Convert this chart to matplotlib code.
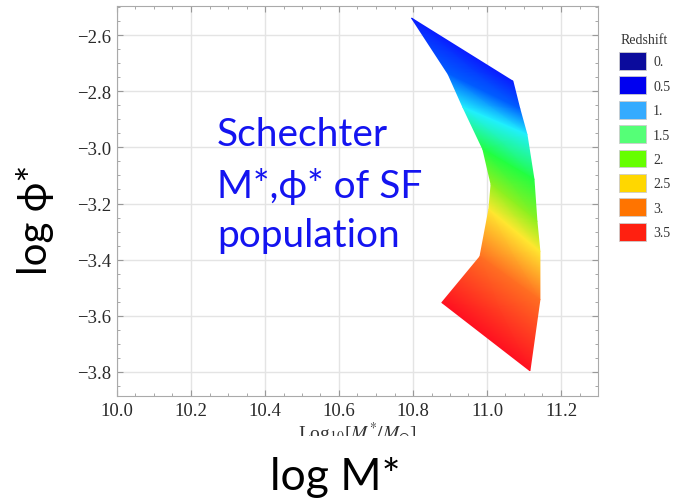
import numpy as np
import matplotlib.pyplot as plt
from matplotlib.colors import LinearSegmentedColormap
from matplotlib.patches import Patch, Rectangle
from matplotlib.ticker import MultipleLocator

# redshift steps along the band
redshift = [0.0, 0.5, 1.0, 1.5, 2.0, 2.5, 3.0, 3.5]
# low-mass (inner) and high-mass (outer) edge of the Schechter M*, phi* band
logm_lo = [10.796, 10.895, 10.935, 10.989, 11.011, 11.005, 10.981, 10.878]
logphi_lo = [-2.539, -2.739, -2.857, -3.007, -3.132, -3.221, -3.389, -3.553]
logm_hi = [11.070, 11.089, 11.108, 11.127, 11.135, 11.143, 11.143, 11.116]
logphi_hi = [-2.764, -2.864, -2.954, -3.114, -3.264, -3.371, -3.543, -3.796]

band_colors = ['#0a1cff', '#0060ff', '#20f0ff', '#22ff40', '#90f020',
               '#ffe830', '#ff7022', '#ff1020']

legend_labels = ['0.', '0.5', '1.', '1.5', '2.', '2.5', '3.', '3.5']
legend_colors = ['#0b0b9c', '#0000f0', '#35abff', '#55ff77', '#66ff00',
                 '#ffd700', '#ff7400', '#ff2010']

xticks = [10.0, 10.2, 10.4, 10.6, 10.8, 11.0, 11.2]
yticks = [-2.6, -2.8, -3.0, -3.2, -3.4, -3.6, -3.8]

plt.rcParams['mathtext.fontset'] = 'stix'
W, H = 677, 502

fig = plt.figure(figsize=(W / 100, H / 100), dpi=100)
ax = fig.add_axes([117 / W, 1 - 397 / H, (598 - 117) / W, (397 - 7) / H])

X = np.column_stack([logm_lo, logm_hi])
Y = np.column_stack([logphi_lo, logphi_hi])
Z = np.column_stack([redshift, redshift])
nodes = np.array(redshift) / max(redshift)
cmap = LinearSegmentedColormap.from_list('band', list(zip(nodes, band_colors)))
ax.pcolormesh(X, Y, Z, shading='gouraud', cmap=cmap, vmin=0, vmax=max(redshift),
              antialiased=True, zorder=3)

ax.set_xlim(10.0, 11.3)
ax.set_ylim(-3.886, -2.496)
ax.set_xticks(xticks)
ax.set_xticklabels(['%.1f' % v for v in xticks])
ax.set_yticks(yticks)
ax.set_yticklabels(['\u2212%.1f' % abs(v) for v in yticks])
ax.xaxis.set_minor_locator(MultipleLocator(0.05))
ax.yaxis.set_minor_locator(MultipleLocator(0.05))
ax.tick_params(which='both', direction='in', top=True, right=True,
               color='#999999', labelcolor='#2a2a2a')
ax.tick_params(which='major', length=4, labelsize=13.5, pad=4)
ax.tick_params(which='minor', length=2)
for lab in ax.get_xticklabels() + ax.get_yticklabels():
    lab.set_family('Liberation Serif')
ax.grid(True, color='#e4e4e4', lw=1)
ax.set_axisbelow(True)
for sp in ax.spines.values():
    sp.set_color('#aaaaaa')

ax.set_xlabel(r'Log$_{10}$[$M^{*}/M_{\odot}$]', family='Liberation Serif',
              fontsize=14, color='#333333', labelpad=0)

# legend
handles = [Patch(facecolor=c, edgecolor='#cccccc', lw=0.6) for c in legend_colors]
leg = fig.legend(handles, legend_labels, title='Redshift', loc='upper left',
                 bbox_to_anchor=(606 / W, 1 - 21 / H), frameon=False,
                 prop={'family': 'Liberation Serif', 'size': 10},
                 handlelength=2.0, handleheight=1.6, labelspacing=0.47,
                 handletextpad=0.5)
leg.get_title().set_family('Liberation Serif')
leg.get_title().set_fontsize(10)
leg.get_title().set_color('#333333')
for t in leg.get_texts():
    t.set_color('#333333')

# white area covering lower part of the axis label
fig.add_artist(Rectangle((0, 0), 1, 1 - 437 / H, transform=fig.transFigure,
                         facecolor='white', edgecolor='none', zorder=5))

# overlaid annotation
blue = '#1414f0'
lines = ['Schechter', 'M*,\u03d5* of SF', 'population']
baselines = [146, 198, 247]
for txt, by in zip(lines, baselines):
    fig.text(217 / W, 1 - by / H, txt, color=blue, fontsize=28,
             family=['Lato', 'DejaVu Sans'], va='baseline', ha='left', zorder=6)

fig.text(35 / W, 1 - 220 / H, 'log \u03d5*', rotation=90, fontsize=29,
         family=['Lato', 'DejaVu Sans'], ha='center', va='center', zorder=6)
fig.text(335 / W, 1 - 478 / H, 'log M*', fontsize=32,
         family=['Lato', 'DejaVu Sans'], ha='center', va='center', zorder=6)

fig.savefig('out.png', dpi=100)
